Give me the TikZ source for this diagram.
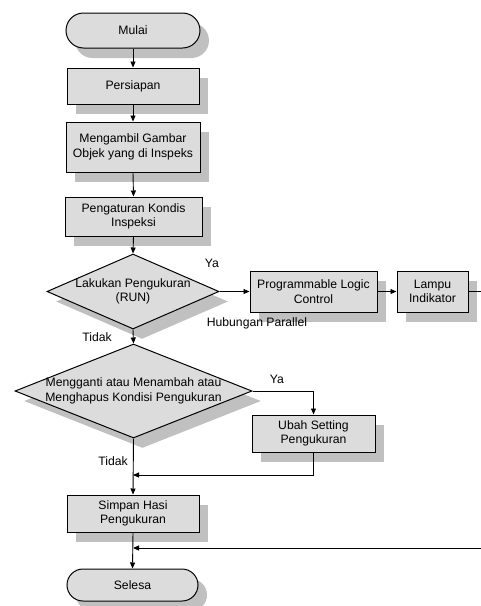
\documentclass[tikz,border=0pt]{standalone}
\usepackage{fontspec}
\setmainfont{Liberation Sans}
\usetikzlibrary{shapes.geometric,shapes.misc,shadows,arrows.meta}
\definecolor{boxfill}{RGB}{220,220,220}
\definecolor{shadowgray}{RGB}{192,192,192}
\begin{document}
\begin{tikzpicture}[x=1pt,y=-1pt,
  font=\fontsize{12.2}{14.5}\selectfont,
  shd/.style={drop shadow={shadow xshift=9pt,shadow yshift=-10pt,fill=shadowgray,opacity=1}},
  proc/.style={rectangle,draw=black,line width=1pt,fill=boxfill,shd,align=center,inner sep=0pt},
  term/.style={rounded rectangle,draw=black,line width=1pt,fill=boxfill,shd,align=center,inner sep=0pt},
  dec/.style={diamond,draw=black,line width=1pt,fill=boxfill,shd,inner sep=0pt},
  arr/.style={line width=0.9pt,-{Triangle[length=6pt,width=5pt]}},
  ln/.style={line width=0.9pt},
  lbl/.style={inner sep=0pt}]
\useasboundingbox (0,0) rectangle (481,606);
\node[term,minimum width=134pt,minimum height=35pt] (mulai) at (133,30.5) {Mulai};
\node[proc,minimum width=132pt,minimum height=36pt] (persiapan) at (133,86) {Persiapan};
\node[proc,minimum width=134pt,minimum height=50pt] (ambil) at (133,147) {Mengambil Gambar\\Objek yang di Inspeks};
\node[proc,minimum width=137pt,minimum height=39pt] (atur) at (133.5,216.5) {Pengaturan Kondis\\Inspeksi};
\node[dec,minimum width=172pt,minimum height=75pt,label={[align=center,inner sep=0pt]center:Lakukan Pengukuran\\(RUN)}] (d1) at (133,291.5) {};
\node[proc,minimum width=127pt,minimum height=41pt] (plc) at (313.5,291.5) {Programmable Logic\\Control};
\node[proc,minimum width=71pt,minimum height=41pt] (lampu) at (432.5,291.5) {Lampu\\Indikator};
\node[dec,minimum width=237pt,minimum height=94pt,label={[align=center,inner sep=0pt]center:Mengganti atau Menambah atau\\Menghapus Kondisi Pengukuran}] (d2) at (133.5,391) {};
\node[proc,minimum width=123pt,minimum height=37pt] (ubah) at (313.5,433.5) {Ubah Setting\\Pengukuran};
\node[proc,minimum width=132pt,minimum height=37pt] (simpan) at (133,513.5) {Simpan Hasi\\Pengukuran};
\node[term,minimum width=131pt,minimum height=32pt] (selesai) at (132.5,585) {Selesa};

\coordinate (rout) at (481,291.5);
\coordinate (rin) at (481,548);
\coordinate (j1) at (133,475);
\coordinate (j2) at (133,548);

\draw[arr] (mulai.south) -- (persiapan.north);
\draw[arr] (persiapan.south) -- (ambil.north);
\draw[arr] (ambil.south) -- (atur.north);
\draw[arr] (atur.south) -- (d1.north);
\draw[arr] (d1.east) -- (plc.west);
\draw[arr] (plc.east) -- (lampu.west);
\draw[ln] (lampu.east) -- (rout);
\draw[arr] (d1.south) -- (d2.north);
\draw[arr] (d2.east) -| (ubah.north);
\draw[arr] (ubah.south) |- (j1);
\draw[arr] (d2.south) -- (simpan.north);
\draw[arr] (rin) -- (j2);
\draw[arr] (simpan.south) -- (selesai.north);

\node[lbl] (ya1) at (212,263) {Ya};
\node[lbl] (hub) at (257,323) {Hubungan Parallel};
\node[lbl] (tidak1) at (97,337) {Tidak};
\node[lbl] (ya2) at (277,379) {Ya};
\node[lbl] (tidak2) at (113,461) {Tidak};
\end{tikzpicture}
\end{document}
